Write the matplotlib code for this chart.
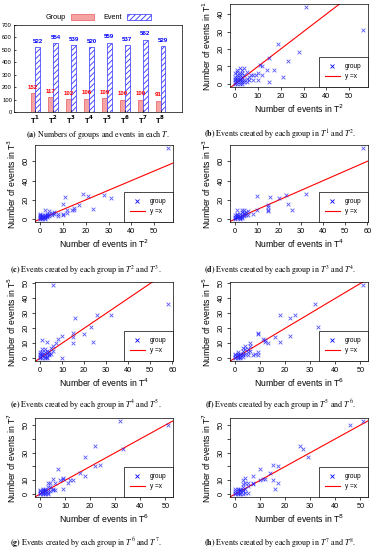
"""
plot.py — groups/events per period (bar) and pairwise period scatter plots.
"""
import matplotlib
matplotlib.use("Agg")
import matplotlib.pyplot as plt
import numpy as np
from matplotlib.lines import Line2D

plt.rcParams["font.family"] = ["Liberation Sans", "DejaVu Sans"]
plt.rcParams["hatch.linewidth"] = 0.6

W, H = 375, 550

# ── Data ──────────────────────────────────────────────────────────────────────
periods = ["1", "2", "3", "4", "5", "6", "7", "8"]
groups = [152, 117, 102, 106, 109, 100, 100, 91]
events = [522, 554, 539, 520, 559, 537, 582, 529]

# (b) x = T2, y = T1
b_x = [0, 0, 0, 0, 1, 1, 1, 1, 1, 2, 2, 2, 2, 2, 3, 3, 3, 3, 4, 4, 4, 5, 5, 6, 0, 1, 2, 3, 1, 2,
       0, 4, 3, 2, 1, 5, 6, 7, 8, 8, 9, 10, 10, 11, 12, 12, 14, 17, 15, 15, 19, 21, 23, 28, 31, 56]
b_y = [0, 2, 4, 6, 1, 3, 5, 7, 2, 0, 3, 6, 9, 1, 2, 4, 8, 6, 1, 5, 9, 3, 7, 2, 1, 0, 4, 1, 8, 2,
       3, 2, 0, 5, 4, 1, 4, 5, 2, 5, 5, 2, 6, 11, 10, 5, 8, 8, 15, 1, 23, 4, 13, 18, 44, 31]
# (c) x = T2, y = T3
c_x = [0, 0, 0, 0, 0, 1, 1, 1, 1, 2, 2, 2, 2, 2, 3, 3, 3, 4, 4, 4, 5, 5, 6, 6, 1, 2, 3, 0,
       8, 8, 10, 10, 12, 12, 14, 15, 15, 17, 10, 11, 19, 21, 23, 28, 31, 56]
c_y = [0, 1, 2, 3, 5, 1, 2, 3, 4, 0, 2, 4, 10, 1, 2, 3, 5, 3, 5, 8, 4, 6, 5, 7, 0, 3, 4, 4,
       3, 5, 4, 5, 6, 10, 9, 9, 12, 15, 16, 23, 26, 24, 11, 25, 22, 74]
# (d) x = T4, y = T3
d_x = [0, 0, 0, 0, 1, 1, 1, 1, 1, 1, 2, 2, 2, 2, 3, 3, 3, 3, 4, 4, 4, 5, 5, 6, 6, 2, 3, 4,
       8, 10, 10, 15, 15, 15, 15, 16, 20, 23, 24, 26, 32, 58]
d_y = [0, 1, 2, 4, 1, 2, 3, 4, 5, 10, 0, 2, 3, 5, 1, 4, 7, 10, 3, 6, 9, 4, 7, 4, 8, 1, 2, 5,
       5, 9, 24, 8, 10, 13, 15, 23, 22, 25, 16, 10, 26, 74]
# (e) x = T4, y = T5
e_x = [0, 0, 0, 0, 0, 1, 1, 1, 1, 1, 1, 2, 2, 2, 2, 3, 3, 3, 3, 4, 4, 4, 5, 5, 6, 6, 2, 3,
       7, 8, 10, 10, 15, 15, 15, 16, 20, 23, 24, 26, 32, 6, 58]
e_y = [0, 1, 2, 3, 4, 0, 2, 3, 4, 6, 12, 0, 2, 4, 6, 0, 3, 5, 11, 2, 3, 4, 3, 7, 5, 8, 1, 1,
       10, 13, 15, 0, 10, 14, 17, 27, 16, 21, 11, 29, 29, 49, 36]
# (f) x = T6, y = T5
f_x = [0, 0, 0, 0, 1, 1, 1, 1, 2, 2, 2, 3, 3, 3, 3, 4, 4, 4, 5, 5, 5, 6, 6, 6, 2, 1, 3,
       7, 8, 9, 9, 9, 9, 11, 12, 12, 13, 16, 18, 18, 22, 22, 24, 32, 33, 51]
f_y = [0, 1, 2, 3, 0, 1, 3, 4, 0, 2, 3, 1, 3, 5, 7, 3, 6, 8, 2, 4, 6, 5, 8, 10, 1, 2, 2,
       2, 3, 2, 4, 16, 17, 13, 11, 12, 10, 14, 11, 29, 15, 27, 29, 36, 21, 49]
# (g) x = T6, y = T7
g_x = [0, 0, 0, 0, 1, 1, 1, 1, 2, 2, 2, 2, 3, 3, 3, 3, 4, 4, 4, 5, 5, 5, 6, 6, 1, 2, 3,
       7, 8, 9, 9, 9, 11, 12, 13, 16, 18, 18, 22, 22, 24, 32, 33, 51]
g_y = [0, 1, 2, 3, 0, 2, 3, 4, 0, 1, 3, 4, 0, 2, 5, 8, 2, 5, 8, 3, 4, 11, 3, 8, 1, 2, 1,
       18, 10, 4, 11, 12, 8, 10, 10, 15, 13, 27, 20, 35, 21, 53, 33, 50]
# (h) x = T8, y = T7
h_x = [0, 0, 0, 0, 1, 1, 1, 1, 2, 2, 2, 2, 3, 3, 3, 3, 3, 4, 4, 4, 4, 5, 5, 5, 2, 3,
       7, 7, 7, 10, 10, 11, 12, 14, 15, 15, 16, 17, 17, 26, 27, 29, 46, 51]
h_y = [0, 1, 2, 4, 0, 1, 3, 4, 0, 2, 3, 4, 0, 2, 5, 7, 10, 1, 4, 8, 12, 1, 6, 8, 1, 3,
       7, 8, 13, 10, 18, 11, 11, 15, 10, 21, 4, 8, 20, 35, 33, 27, 50, 53]


def px_axes(fig, left, top, right, bottom):
    return fig.add_axes([left / W, 1 - bottom / H, (right - left) / W, (bottom - top) / H])


def caption(fig, cx, cy, label, body):
    fig.text(cx / W, 1 - cy / H, rf"$\mathbf{{({label})}}$ {body}", ha="center", va="center",
             fontsize=5.8, family="STIXGeneral", math_fontfamily="stix")


# ── Scatter panels ────────────────────────────────────────────────────────────
def scatter_panel(fig, rect, x, y, xs, ys, xticks, yticks, ylabels=None):
    ax = px_axes(fig, *rect)
    x, y = np.asarray(x), np.asarray(y)
    ax.scatter(x, y, marker="x", s=7, linewidths=0.6, color="#2020ff", alpha=0.75, zorder=3)
    xr, yr = x.max() - x.min(), y.max() - y.min()
    ax.set_xlim(x.min() - 0.04 * xr, x.max() + 0.04 * xr)
    ax.set_ylim(y.min() - 0.04 * yr, y.max() + 0.04 * yr)
    ax.axline((0, 0), slope=1, color="red", lw=0.8, zorder=2)

    ax.set_xticks(xticks)
    ax.set_yticks(yticks)
    if ylabels is not None:
        ax.set_yticklabels(ylabels)
    ax.tick_params(labelsize=5.3, length=2, width=0.5, pad=2)
    ax.tick_params(axis="y", labelrotation=90)
    for lab in ax.get_yticklabels():
        lab.set_va("center")
    for sp in ax.spines.values():
        sp.set_linewidth(0.5)
    ax.set_xlabel(f"Number of events in T$^{{{xs}}}$", fontsize=6.2, labelpad=2)
    ax.set_ylabel(f"Number of events in T$^{{{ys}}}$", fontsize=6.2, labelpad=3)

    handles = [Line2D([], [], marker="x", ls="", color="blue", markersize=3.2, mew=0.6),
               Line2D([], [], color="red", lw=0.8)]
    leg = ax.legend(handles, ["group", "y =x"], loc="lower right", borderaxespad=0,
                    fontsize=4.7, fancybox=False, framealpha=1, edgecolor="black",
                    handlelength=2.2, borderpad=1.0, labelspacing=0.5)
    leg.get_frame().set_linewidth(0.5)
    return ax


fig = plt.figure(figsize=(W / 100, H / 100), dpi=100)

# ── (a) bar chart ─────────────────────────────────────────────────────────────
ax = px_axes(fig, 14, 25, 182, 112)
idx = np.arange(len(periods))
bw = 0.27
ax.bar(idx - bw / 2, groups, bw, color="#f5a3a3", edgecolor="#e85a5a", lw=0.5, label="Group")
ax.bar(idx + bw / 2, events, bw, color="white", edgecolor="#3030ff", lw=0.5,
       hatch="//////", label="Event")
for i in idx:
    ax.text(i - bw / 2, groups[i] + 28, str(groups[i]), ha="center", va="bottom",
            fontsize=4.4, color="red", fontweight="bold")
    ax.text(i + bw / 2, events[i] + 28, str(events[i]), ha="center", va="bottom",
            fontsize=4.4, color="blue", fontweight="bold")
ax.set_xlim(-1.2, 8.2)
ax.set_ylim(0, 700)
ax.set_yticks(range(0, 701, 100))
ax.set_xticks(idx)
ax.set_xticklabels([rf"T$^{{\mathbf{{{p}}}}}$" for p in periods], fontweight="bold",
                   fontsize=5.5)
ax.tick_params(axis="y", labelsize=4.2)
ax.tick_params(direction="in", length=1.5, width=0.5, pad=1.5)
for sp in ax.spines.values():
    sp.set_linewidth(0.5)
ax.legend(loc="lower center", bbox_to_anchor=(0.5, 1.0), ncol=2, frameon=False,
          markerfirst=False, fontsize=5.2, handlelength=3.2, handleheight=0.8,
          columnspacing=1.2, borderaxespad=0.1)
caption(fig, 98, 135, "a", "Numbers of groups and events in each $T$.")

# ── (b)–(h) scatter panels ────────────────────────────────────────────────────
t10 = [0, 10, 20, 30, 40, 50]
t60 = [0, 10, 20, 30, 40, 50, 60]
scatter_panel(fig, (230, 4, 368, 87), b_x, b_y, "2", "1", t10, [0, 10, 20, 30, 40])
caption(fig, 280, 135, "b", "Events created by each group in $T^1$ and $T^2$.")

scatter_panel(fig, (35, 145, 173, 222), c_x, c_y, "2", "3", t10, [0, 20, 40, 60])
caption(fig, 86, 270, "c", "Events created by each group in $T^2$ and $T^3$.")

scatter_panel(fig, (230, 145, 368, 222), d_x, d_y, "4", "3", t60, [0, 20, 40, 60])
caption(fig, 280, 270, "d", "Events created by each group in $T^3$ and $T^4$.")

scatter_panel(fig, (35, 282, 173, 361), e_x, e_y, "4", "5", t60, t10)
caption(fig, 86, 405, "e", "Events created by each group in $T^4$ and $T^5$.")

scatter_panel(fig, (230, 282, 368, 361), f_x, f_y, "6", "5", t10, t10)
caption(fig, 280, 405, "f", "Events created by each group in $T^5$ and $T^6$.")

gl = ["0", "10", "", "30", "", "50"]
scatter_panel(fig, (35, 418, 173, 497), g_x, g_y, "6", "7", t10, t10, gl)
caption(fig, 86, 543, "g", "Events created by each group in $T^6$ and $T^7$.")

scatter_panel(fig, (230, 418, 368, 497), h_x, h_y, "8", "7", t10, t10, gl)
caption(fig, 280, 543, "h", "Events created by each group in $T^7$ and $T^8$.")

fig.savefig("out.png", dpi=100)
